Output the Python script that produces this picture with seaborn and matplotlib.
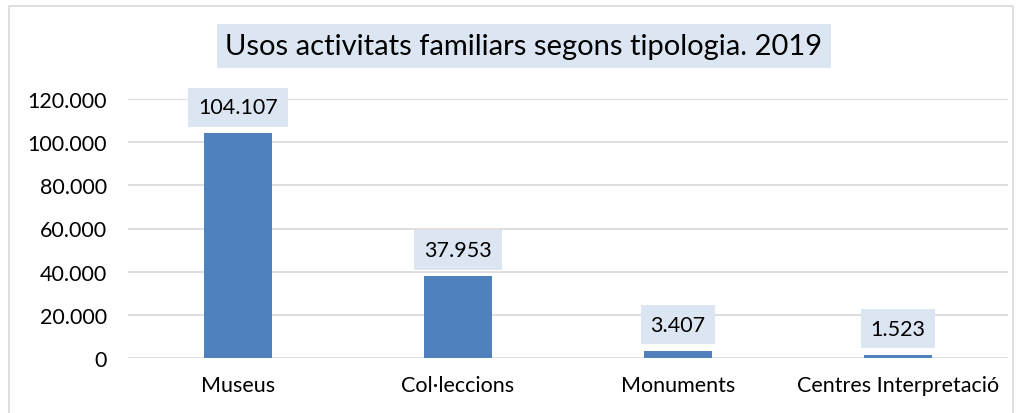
import matplotlib
matplotlib.use("Agg")
import matplotlib.pyplot as plt
import seaborn as sns
import pandas as pd
from matplotlib.ticker import FuncFormatter
from matplotlib.patches import Rectangle

categories = ["Museus", "Col·leccions", "Monuments", "Centres Interpretació"]
values = [104107, 37953, 3407, 1523]
title = "Usos activitats familiars segons tipologia. 2019"

sns.set_theme(style="white")
plt.rcParams['font.family'] = ['Lato', 'DejaVu Sans']

df = pd.DataFrame({"cat": categories, "val": values})

fig = plt.figure(figsize=(10.21, 4.14), dpi=100)
ax = fig.add_axes([128/1021, 55/414, 880/1021, 259/414])

sns.barplot(data=df, x="cat", y="val", ax=ax, color="#4F81BD", width=0.31,
            saturation=1, edgecolor="none")
ax.set_xlim(-0.5, 3.5)
ax.set_ylim(0, 120000)
ax.set_yticks(range(0, 120001, 20000))
ax.yaxis.set_major_formatter(FuncFormatter(lambda v, p: f"{int(v):,}".replace(",", ".")))
ax.grid(axis="y", color="#D9D9D9", linewidth=1.2)
ax.set_axisbelow(True)
for s in ax.spines.values():
    s.set_visible(False)
ax.set_xlabel("")
ax.set_ylabel("")
ax.tick_params(axis="both", length=0, labelsize=15.5, colors="#000000")
ax.tick_params(axis="y", pad=15)
ax.tick_params(axis="x", pad=12)

for i, v in enumerate(values):
    ax.annotate(f"{v:,}".replace(",", "."), xy=(i, v), xytext=(0, 26),
                textcoords="offset pixels", ha="center", va="center",
                fontsize=15.5, color="#000000", annotation_clip=False,
                bbox=dict(boxstyle="square,pad=0.45", fc="#DCE6F2", ec="none"))

fig.text(524/1021, 1 - 47/414, title, ha="center", va="center", fontsize=21,
         color="#000000",
         bbox=dict(boxstyle="square,pad=0.3", fc="#DCE6F2", ec="none"))

fig.patches.append(Rectangle((9/1021, -0.01), 1004/1021, 1 - 7/414 + 0.01,
                             transform=fig.transFigure, fill=False,
                             ec="#D9D9D9", lw=1.2))

fig.savefig("out.png", dpi=100)
